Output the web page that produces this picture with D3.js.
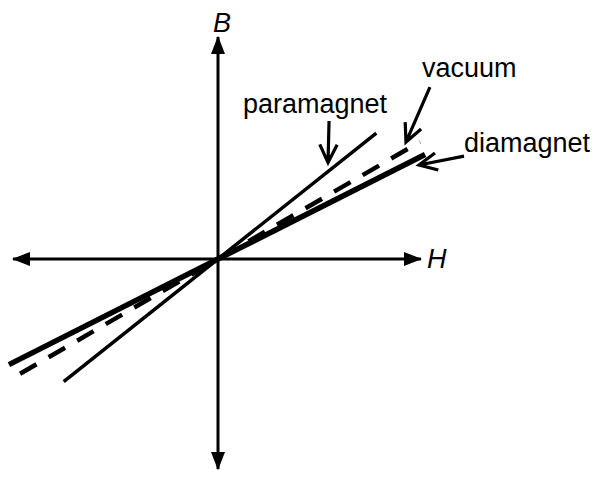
<!DOCTYPE html>
<html>
<head>
<meta charset="utf-8">
<script src="https://cdn.jsdelivr.net/npm/d3@7"></script>
<style>
  body { margin: 0; background: #fff; }
  text { font-family: "Liberation Sans", Arial, sans-serif; fill: #000; }
</style>
</head>
<body>
<script>
// materials: B = slope * H, each drawn from hStart to hEnd
var materials = ["paramagnet", "vacuum", "diamagnet"];
var slopes = [0.795, 0.58, 0.505];
var hStart = [-0.76, -0.975, -1.03];
var hEnd = [0.78, 0.995, 1.02];

// label anchors and arrows (tail -> head), in H/B units
var labelPos = [[0.123, 0.72], [1.005, 0.897], [1.212, 0.527]];
var arrowTail = [[0.547, 0.68], [1.044, 0.847], [1.212, 0.507]];
var arrowHead = [[0.542, 0.475], [0.926, 0.576], [0.99, 0.463]];

// axis extents
var hRange = [-1.01, 1.0];
var bRange = [-1.035, 1.094];

var width = 599, height = 481;
var unit = 203;
var x = d3.scaleLinear().domain([0, 1]).range([218, 218 + unit]);
var y = d3.scaleLinear().domain([0, 1]).range([259, 259 - unit]);

var svg = d3.select("body").append("svg")
    .attr("width", width)
    .attr("height", height);

var defs = svg.append("defs");
defs.append("marker")
    .attr("id", "tri")
    .attr("viewBox", "0 0 18 14")
    .attr("refX", 17)
    .attr("refY", 7)
    .attr("markerWidth", 18)
    .attr("markerHeight", 14)
    .attr("markerUnits", "userSpaceOnUse")
    .attr("orient", "auto-start-reverse")
    .append("path")
    .attr("d", "M0,0L18,7L0,14Z")
    .attr("fill", "#000");

// axes
svg.append("line")
    .attr("x1", x(hRange[0])).attr("y1", y(0))
    .attr("x2", x(hRange[1])).attr("y2", y(0))
    .attr("stroke", "#000").attr("stroke-width", 3)
    .attr("marker-start", "url(#tri)")
    .attr("marker-end", "url(#tri)");

svg.append("line")
    .attr("x1", x(0)).attr("y1", y(bRange[0]))
    .attr("x2", x(0)).attr("y2", y(bRange[1]))
    .attr("stroke", "#000").attr("stroke-width", 3)
    .attr("marker-start", "url(#tri)")
    .attr("marker-end", "url(#tri)");

svg.append("text")
    .attr("x", x(0) + 4).attr("y", y(bRange[1]) - 5)
    .attr("text-anchor", "middle")
    .attr("font-size", 27)
    .attr("font-style", "italic")
    .text("B");

svg.append("text")
    .attr("x", x(hRange[1]) + 6).attr("y", y(0) + 9)
    .attr("font-size", 27)
    .attr("font-style", "italic")
    .text("H");

// B-H lines
var strokeW = [3.5, 4.5, 5.5];
svg.selectAll("line.mat")
    .data(materials)
    .enter().append("line")
    .attr("class", "mat")
    .attr("x1", function(d, i) { return x(hStart[i]); })
    .attr("y1", function(d, i) { return y(hStart[i] * slopes[i]); })
    .attr("x2", function(d, i) { return x(hEnd[i]); })
    .attr("y2", function(d, i) { return y(hEnd[i] * slopes[i]); })
    .attr("stroke", "#000")
    .attr("stroke-width", function(d, i) { return strokeW[i]; })
    .attr("stroke-dasharray", function(d) { return d == "vacuum" ? "19,14" : null; });

// labels
svg.selectAll("text.lab")
    .data(materials)
    .enter().append("text")
    .attr("class", "lab")
    .attr("x", function(d, i) { return x(labelPos[i][0]); })
    .attr("y", function(d, i) { return y(labelPos[i][1]); })
    .attr("font-size", 27)
    .text(function(d) { return d; });

// pointer arrows with open heads
svg.selectAll("path.ptr")
    .data(materials)
    .enter().append("path")
    .attr("class", "ptr")
    .attr("fill", "none")
    .attr("stroke", "#000")
    .attr("stroke-width", 3.2)
    .attr("stroke-linejoin", "miter")
    .attr("d", function(d, i) {
      var x0 = x(arrowTail[i][0]), y0 = y(arrowTail[i][1]);
      var x1 = x(arrowHead[i][0]), y1 = y(arrowHead[i][1]);
      var a = Math.atan2(y1 - y0, x1 - x0);
      var len = 20, spread = 0.45;
      var lx = x1 - len * Math.cos(a - spread), ly = y1 - len * Math.sin(a - spread);
      var rx = x1 - len * Math.cos(a + spread), ry = y1 - len * Math.sin(a + spread);
      return "M" + x0 + "," + y0 + "L" + x1 + "," + y1
          + "M" + lx + "," + ly + "L" + x1 + "," + y1 + "L" + rx + "," + ry;
    });
</script>
</body>
</html>
